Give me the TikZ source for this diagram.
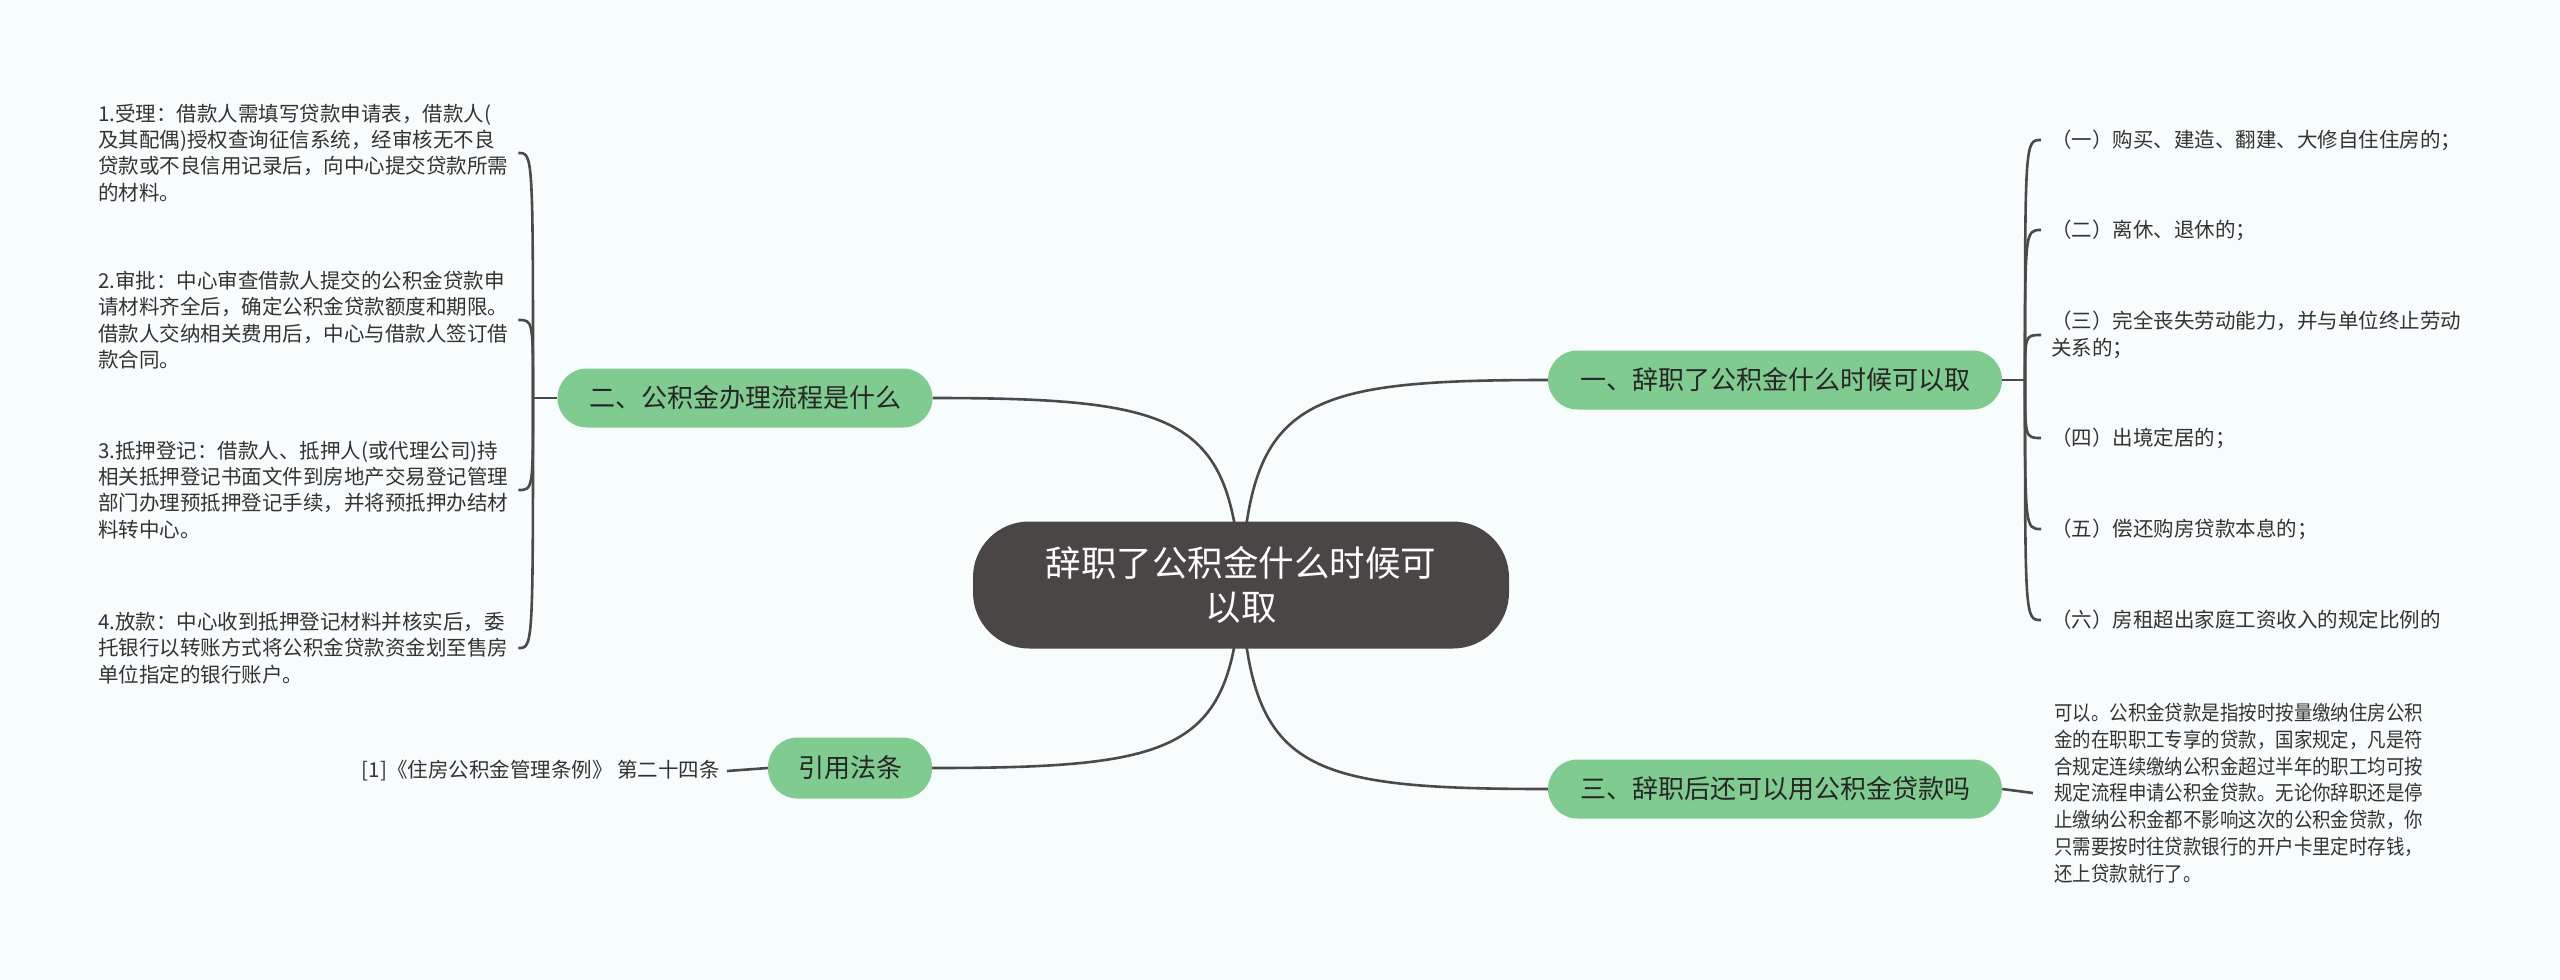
\documentclass[tikz,border=0pt]{standalone}
\usepackage{fontspec}
\setmainfont{Noto Sans CJK SC}
\newfontfamily\cjkcond[FakeStretch=0.9]{Noto Sans CJK SC}
\definecolor{bgc}{HTML}{F7FCFC}
\definecolor{rootc}{HTML}{4B4646}
\definecolor{greenc}{HTML}{80CB8F}
\definecolor{linec}{HTML}{4A4A4A}
\definecolor{txtc}{HTML}{333333}
\pgfdeclarelayer{bg}
\pgfsetlayers{bg,main}
\tikzset{
  rootnode/.style={fill=rootc, text=white, rounded corners=56pt, minimum width=536pt, minimum height=127pt, inner sep=0pt, align=center, font=\fontsize{35.5}{44}\selectfont},
  branchnode/.style={fill=greenc, text=black!85, rounded corners=29.5pt, minimum height=59pt, inner sep=0pt, font=\fontsize{26}{30}\selectfont},
  leafl/.style={anchor=west, inner sep=0pt, align=left, text=txtc, font=\fontsize{20.5}{26.3}\selectfont},
  leafc/.style={anchor=west, inner sep=0pt, align=left, text=txtc, font=\cjkcond\fontsize{20.5}{26.8}\selectfont},
  conn/.style={draw=linec, line width=2.6pt},
}
\begin{document}
\begin{tikzpicture}[x=1pt,y=-1pt]
\begin{pgfonlayer}{bg}
\fill[bgc] (0,0) rectangle (2560,980);
\end{pgfonlayer}
\useasboundingbox (0,0) rectangle (2560,980);

% root and branches
\node[rootnode] (root) at (1241,585) {辞职了公积金什么时候可\\以取};
\node[branchnode, minimum width=454pt] (b1) at (1775,380) {一、辞职了公积金什么时候可以取};
\node[branchnode, minimum width=454pt] (b3) at (1775,789) {三、辞职后还可以用公积金贷款吗};
\node[branchnode, minimum width=375pt] (b2) at (745,398) {二、公积金办理流程是什么};
\node[branchnode, minimum width=164pt, minimum height=61pt] (law) at (850,768) {引用法条};

% left leaves
\node[leafl] (l1) at (98,153) {1.受理：借款人需填写贷款申请表，借款人(\\及其配偶)授权查询征信系统，经审核无不良\\贷款或不良信用记录后，向中心提交贷款所需\\的材料。};
\node[leafl] (l2) at (98,320) {2.审批：中心审查借款人提交的公积金贷款申\\请材料齐全后，确定公积金贷款额度和期限。\\借款人交纳相关费用后，中心与借款人签订借\\款合同。};
\node[leafl] (l3) at (98,490) {3.抵押登记：借款人、抵押人(或代理公司)持\\相关抵押登记书面文件到房地产交易登记管理\\部门办理预抵押登记手续，并将预抵押办结材\\料转中心。};
\node[leafl] (l4) at (98,648) {4.放款：中心收到抵押登记材料并核实后，委\\托银行以转账方式将公积金贷款资金划至售房\\单位指定的银行账户。};

% citation
\node[leafl, anchor=east] (cite) at (720,771) {[1]《住房公积金管理条例》 第二十四条};

% right leaves
\node[leafl] (r1) at (2051,140) {（一）购买、建造、翻建、大修自住住房的；};
\node[leafl] (r2) at (2051,230) {（二）离休、退休的；};
\node[leafl] (r3) at (2051,335) {（三）完全丧失劳动能力，并与单位终止劳动\\关系的；};
\node[leafl] (r4) at (2051,438) {（四）出境定居的；};
\node[leafl] (r5) at (2051,529) {（五）偿还购房贷款本息的；};
\node[leafl] (r6) at (2051,620) {（六）房租超出家庭工资收入的规定比例的};

\node[leafc] (t3) at (2054,793) {可以。公积金贷款是指按时按量缴纳住房公积\\金的在职职工专享的贷款，国家规定，凡是符\\合规定连续缴纳公积金超过半年的职工均可按\\规定流程申请公积金贷款。无论你辞职还是停\\止缴纳公积金都不影响这次的公积金贷款，你\\只需要按时往贷款银行的开户卡里定时存钱，\\还上贷款就行了。};

\coordinate (lj) at (533,398);
\coordinate (rj) at (2025,380);

\begin{pgfonlayer}{bg}
% root connectors
\draw[conn] (root.center) .. controls (1250,400) and (1300,380) .. (b1.west);
\draw[conn] (root.center) .. controls (1232,418) and (1182,398) .. (b2.east);
\draw[conn] (root.center) .. controls (1250,770) and (1300,789) .. (b3.west);
\draw[conn] (root.center) .. controls (1232,750) and (1182,768) .. (law.east);
% left bracket
\draw[conn] (b2.west) -- (lj);
\foreach \n in {l1,l2,l3,l4}{
  \draw[conn] (lj) .. controls (lj |- \n.east) .. ([xshift=10pt]\n.east);
}
% right bracket
\draw[conn] (b1.east) -- (rj);
\foreach \n in {r1,r2,r3,r4,r5,r6}{
  \draw[conn] (rj) .. controls (rj |- \n.west) .. ([xshift=-10pt]\n.west);
}
% others
\draw[conn] (b3.east) -- ([xshift=-21pt]t3.west);
\draw[conn] ([xshift=7pt]cite.east) -- (law.west);
\end{pgfonlayer}
\end{tikzpicture}
\end{document}
